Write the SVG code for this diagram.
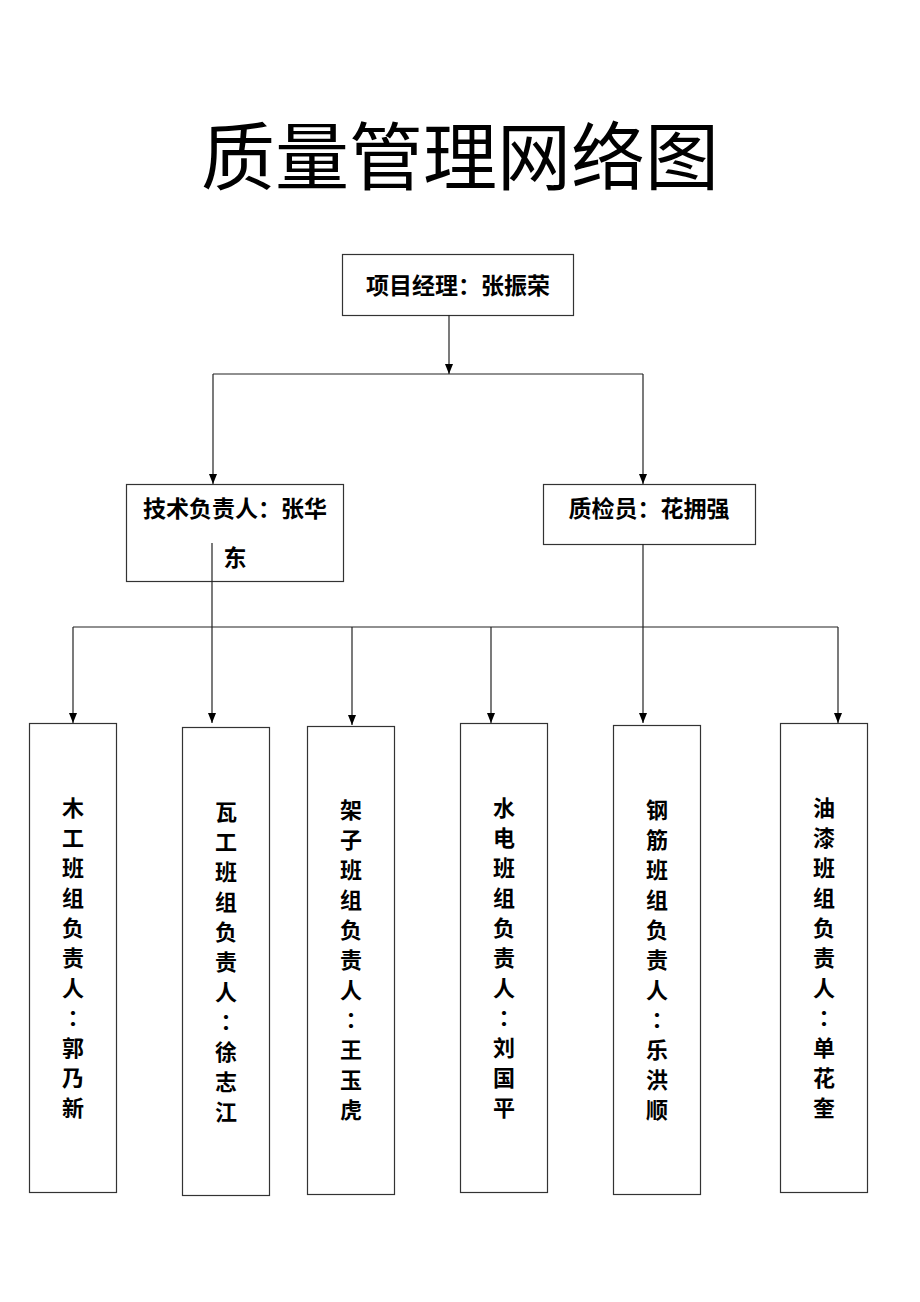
<svg xmlns="http://www.w3.org/2000/svg" width="920" height="1302" viewBox="0 0 920 1302">
<style>
.bg{fill:#fff}
.box{fill:#fff;stroke:#333;stroke-width:1.2}
.t{font-family:"Noto Sans CJK SC","Noto Sans CJK TC",sans-serif;font-weight:bold;font-size:23px;fill:#000;text-anchor:middle}
.v{font-family:"Noto Sans CJK SC",sans-serif;font-weight:bold;font-size:22px;fill:#000;text-anchor:middle}
.c{font-family:"Noto Sans CJK TC",sans-serif}
.title{font-family:"Noto Sans CJK SC",sans-serif;font-weight:normal;font-size:74px;fill:#000;text-anchor:middle}
.ln{fill:none;stroke:#222;stroke-width:1.2}
</style>
<defs>
<marker id="arr" viewBox="0 0 10 10" refX="10" refY="5" markerWidth="10" markerHeight="10" markerUnits="userSpaceOnUse" orient="auto">
<path d="M0,1 L10,5 L0,9 Z" fill="#000"/>
</marker>
</defs>
<rect class="bg" x="0" y="0" width="920" height="1302"/>
<text class="title" x="460" y="184">质量管理网络图</text>

<g id="pm">
<rect class="box" x="342.5" y="254.5" width="231" height="61"/>
<text class="t" x="458" y="294">项目经理：张振荣</text>
</g>
<g id="tech">
<rect class="box" x="126.5" y="484.5" width="217" height="97"/>
<text class="t" x="235" y="517">技术负责人：张华</text>
<text class="t" x="235" y="566">东</text>
</g>
<g id="qc">
<rect class="box" x="543.5" y="484.5" width="212" height="60"/>
<text class="t" x="649" y="517">质检员：花拥强</text>
</g>

<g id="mu">
<rect class="box" x="29.5" y="723.5" width="87" height="469"/>
<text class="v" x="73" y="816">木<tspan x="73" dy="30">工</tspan><tspan x="73" dy="30">班</tspan><tspan x="73" dy="30">组</tspan><tspan x="73" dy="30">负</tspan><tspan x="73" dy="30">责</tspan><tspan x="73" dy="30">人</tspan><tspan class="c" x="73" dy="30">：</tspan><tspan x="73" dy="30">郭</tspan><tspan x="73" dy="30">乃</tspan><tspan x="73" dy="30">新</tspan></text>
</g>
<g id="wa">
<rect class="box" x="182.5" y="727.5" width="87" height="468"/>
<text class="v" x="226" y="820">瓦<tspan x="226" dy="30">工</tspan><tspan x="226" dy="30">班</tspan><tspan x="226" dy="30">组</tspan><tspan x="226" dy="30">负</tspan><tspan x="226" dy="30">责</tspan><tspan x="226" dy="30">人</tspan><tspan class="c" x="226" dy="30">：</tspan><tspan x="226" dy="30">徐</tspan><tspan x="226" dy="30">志</tspan><tspan x="226" dy="30">江</tspan></text>
</g>
<g id="jia">
<rect class="box" x="307.5" y="726.5" width="87" height="468"/>
<text class="v" x="351" y="818">架<tspan x="351" dy="30">子</tspan><tspan x="351" dy="30">班</tspan><tspan x="351" dy="30">组</tspan><tspan x="351" dy="30">负</tspan><tspan x="351" dy="30">责</tspan><tspan x="351" dy="30">人</tspan><tspan class="c" x="351" dy="30">：</tspan><tspan x="351" dy="30">王</tspan><tspan x="351" dy="30">玉</tspan><tspan x="351" dy="30">虎</tspan></text>
</g>
<g id="shui">
<rect class="box" x="460.5" y="723.5" width="87" height="469"/>
<text class="v" x="504" y="816">水<tspan x="504" dy="30">电</tspan><tspan x="504" dy="30">班</tspan><tspan x="504" dy="30">组</tspan><tspan x="504" dy="30">负</tspan><tspan x="504" dy="30">责</tspan><tspan x="504" dy="30">人</tspan><tspan class="c" x="504" dy="30">：</tspan><tspan x="504" dy="30">刘</tspan><tspan x="504" dy="30">国</tspan><tspan x="504" dy="30">平</tspan></text>
</g>
<g id="gang">
<rect class="box" x="613.5" y="725.5" width="87" height="469"/>
<text class="v" x="657" y="818">钢<tspan x="657" dy="30">筋</tspan><tspan x="657" dy="30">班</tspan><tspan x="657" dy="30">组</tspan><tspan x="657" dy="30">负</tspan><tspan x="657" dy="30">责</tspan><tspan x="657" dy="30">人</tspan><tspan class="c" x="657" dy="30">：</tspan><tspan x="657" dy="30">乐</tspan><tspan x="657" dy="30">洪</tspan><tspan x="657" dy="30">顺</tspan></text>
</g>
<g id="you">
<rect class="box" x="780.5" y="723.5" width="87" height="469"/>
<text class="v" x="824" y="816">油<tspan x="824" dy="30">漆</tspan><tspan x="824" dy="30">班</tspan><tspan x="824" dy="30">组</tspan><tspan x="824" dy="30">负</tspan><tspan x="824" dy="30">责</tspan><tspan x="824" dy="30">人</tspan><tspan class="c" x="824" dy="30">：</tspan><tspan x="824" dy="30">单</tspan><tspan x="824" dy="30">花</tspan><tspan x="824" dy="30">奎</tspan></text>
</g>

<g id="connectors">
<path class="ln" d="M449,315 V374" marker-end="url(#arr)"/>
<path class="ln" d="M213,374 H643"/>
<path class="ln" d="M213,374 V484" marker-end="url(#arr)"/>
<path class="ln" d="M643,374 V484" marker-end="url(#arr)"/>
<path class="ln" d="M212,543 V723" marker-end="url(#arr)"/>
<path class="ln" d="M643,544 V723" marker-end="url(#arr)"/>
<path class="ln" d="M73,627 H838"/>
<path class="ln" d="M73,627 V723" marker-end="url(#arr)"/>
<path class="ln" d="M352,627 V725" marker-end="url(#arr)"/>
<path class="ln" d="M491,627 V723" marker-end="url(#arr)"/>
<path class="ln" d="M838,627 V723" marker-end="url(#arr)"/>
</g>
</svg>
